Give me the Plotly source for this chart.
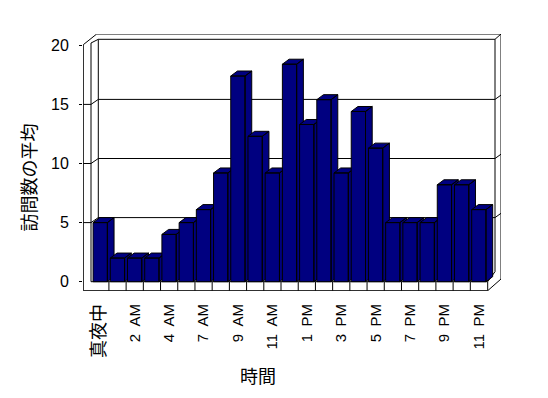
import plotly.graph_objects as go

# ---- data ----
categories = ["真夜中", "1 AM", "2 AM", "3 AM", "4 AM", "5 AM", "7 AM", "8 AM", "9 AM",
              "10 AM", "11 AM", "正午", "1 PM", "2 PM", "3 PM", "4 PM", "5 PM", "6 PM",
              "7 PM", "8 PM", "9 PM", "10 PM", "11 PM"]
values = [5, 2, 2, 2, 4, 5, 6.1, 9.2, 17.4, 12.3, 9.2, 18.4,
          13.3, 15.4, 9.2, 14.4, 11.3, 5, 5, 5, 8.2, 8.2, 6.1]
y_ticks = [0, 5, 10, 15, 20]
y_title = "訪問数の平均"
x_title = "時間"

# ---- geometry (pixel layout of the 3D frame) ----
W, H = 548, 398
PL, PR, PT, PB = 83, 501, 34, 291          # plot area in pixels
X0PX, CATPX = 91.7, 17.21                  # first category left edge, category width
Y0PX, UNITPX = 281.7, 11.82                # front-plane zero, px per value unit
DXPX, DYPX = 6.7, 5.0                       # bar depth offset in px

def xd(px):
    return (px - X0PX) / CATPX - 0.5

def yd(py):
    return (Y0PX - py) / UNITPX

def pxp(px):
    return (px - PL) / (PR - PL)

def pyp(py):
    return (PB - py) / (PB - PT)

DX = DXPX / CATPX
DY = DYPX / UNITPX
NAVY = "#000080"
FONT = "Liberation Sans, Noto Sans CJK JP"
CJK = "Noto Sans CJK JP"

fig = go.Figure()

# ---- 3D bars: front, top and side faces drawn in data coordinates ----
for i, v in enumerate(values):
    x0 = i - 0.5 + 0.08
    x1 = x0 + 0.83
    xs = [x0, x1, x1, x0, x0, None,
          x0, x1, x1 + DX, x0 + DX, x0, None,
          x1, x1 + DX, x1 + DX, x1, x1]
    ys = [0, 0, v, v, 0, None,
          v, v, v + DY, v + DY, v, None,
          0, DY, v + DY, v, 0]
    fig.add_trace(go.Scatter(x=xs, y=ys, mode="lines", fill="toself",
                             fillcolor=NAVY, line=dict(color="black", width=1),
                             hoverinfo="skip", showlegend=False))

# ---- frame decoration lines (pixel-defined walls) ----
def seg(p1, p2):
    return dict(type="line", xref="x", yref="y", layer="below",
                x0=xd(p1[0]), y0=yd(p1[1]), x1=xd(p2[0]), y1=yd(p2[1]),
                line=dict(color="black", width=1))

shapes = []
outer = [((83.3, 44.7), (83.3, 290.7)), ((83.3, 44.7), (96.7, 34)),
         ((96.7, 34), (501, 34)), ((501, 34), (501, 279)),
         ((487.7, 290.7), (501, 279)), ((83.3, 290.7), (487.7, 290.7)),
         ((91, 43), (91, 281.7)), ((91, 43), (98.3, 39.3)),
         ((98.3, 39.3), (495, 39.3)), ((98.3, 39.3), (98.3, 276.7)),
         ((495, 39.3), (495, 271.7)), ((495, 39.3), (501, 34)),
         ((91, 281.7), (487.7, 281.7)), ((487.7, 281.7), (487.7, 290.7)),
         ((487.7, 281.7), (495, 271.7))]
for a, b in outer:
    shapes.append(seg(a, b))
for k in range(1, len(categories)):
    bx = X0PX + CATPX * k
    shapes.append(seg((bx, 281.7), (bx, 290.7)))
for t in y_ticks[1:-1]:
    yf = Y0PX - UNITPX * t
    yb = yf - DYPX
    shapes.append(seg((98.3, yb), (495, yb)))
    shapes.append(seg((495, yb), (501, yb - 4.3)))
    shapes.append(seg((83.3, yf), (91, yf)))
    shapes.append(seg((91, yf), (98.3, yb)))

def tick_text(c):
    if c[0].isdigit():
        return c.replace(" ", "\u2002")
    return "<span style='font-family:%s;font-size:18px'>%s</span>" % (CJK, c)

fig.update_layout(
    width=W, height=H,
    margin=dict(l=PL, r=W - PR, t=PT, b=H - PB),
    paper_bgcolor="white", plot_bgcolor="white",
    font=dict(family=FONT, size=15, color="black"),
    shapes=shapes,
    showlegend=False,
    xaxis=dict(range=[xd(PL), xd(PR)], showgrid=False, zeroline=False, showline=False,
               tickmode="array", tickvals=list(range(0, len(categories), 2)),
               ticktext=[tick_text(c) for c in categories[::2]],
               tickangle=-90, ticks="", ticklabelstandoff=9,
               tickfont=dict(family=FONT, size=15)),
    yaxis=dict(range=[yd(PB), yd(PT)], showgrid=False, zeroline=False, showline=False,
               tickmode="array", tickvals=y_ticks, ticktext=[str(t) for t in y_ticks],
               ticks="outside", ticklen=3, tickcolor="black", ticklabelstandoff=7,
               tickfont=dict(family=FONT, size=16)),
    annotations=[
        dict(text=y_title, xref="paper", yref="paper", x=pxp(27.5), y=pyp(178),
             xanchor="center", yanchor="middle", textangle=-90, showarrow=False,
             font=dict(family=CJK, size=18)),
        dict(text=x_title, xref="paper", yref="paper", x=pxp(258), y=pyp(375),
             xanchor="center", yanchor="middle", showarrow=False,
             font=dict(family=CJK, size=18)),
    ],
)

fig.write_html("out.html")
